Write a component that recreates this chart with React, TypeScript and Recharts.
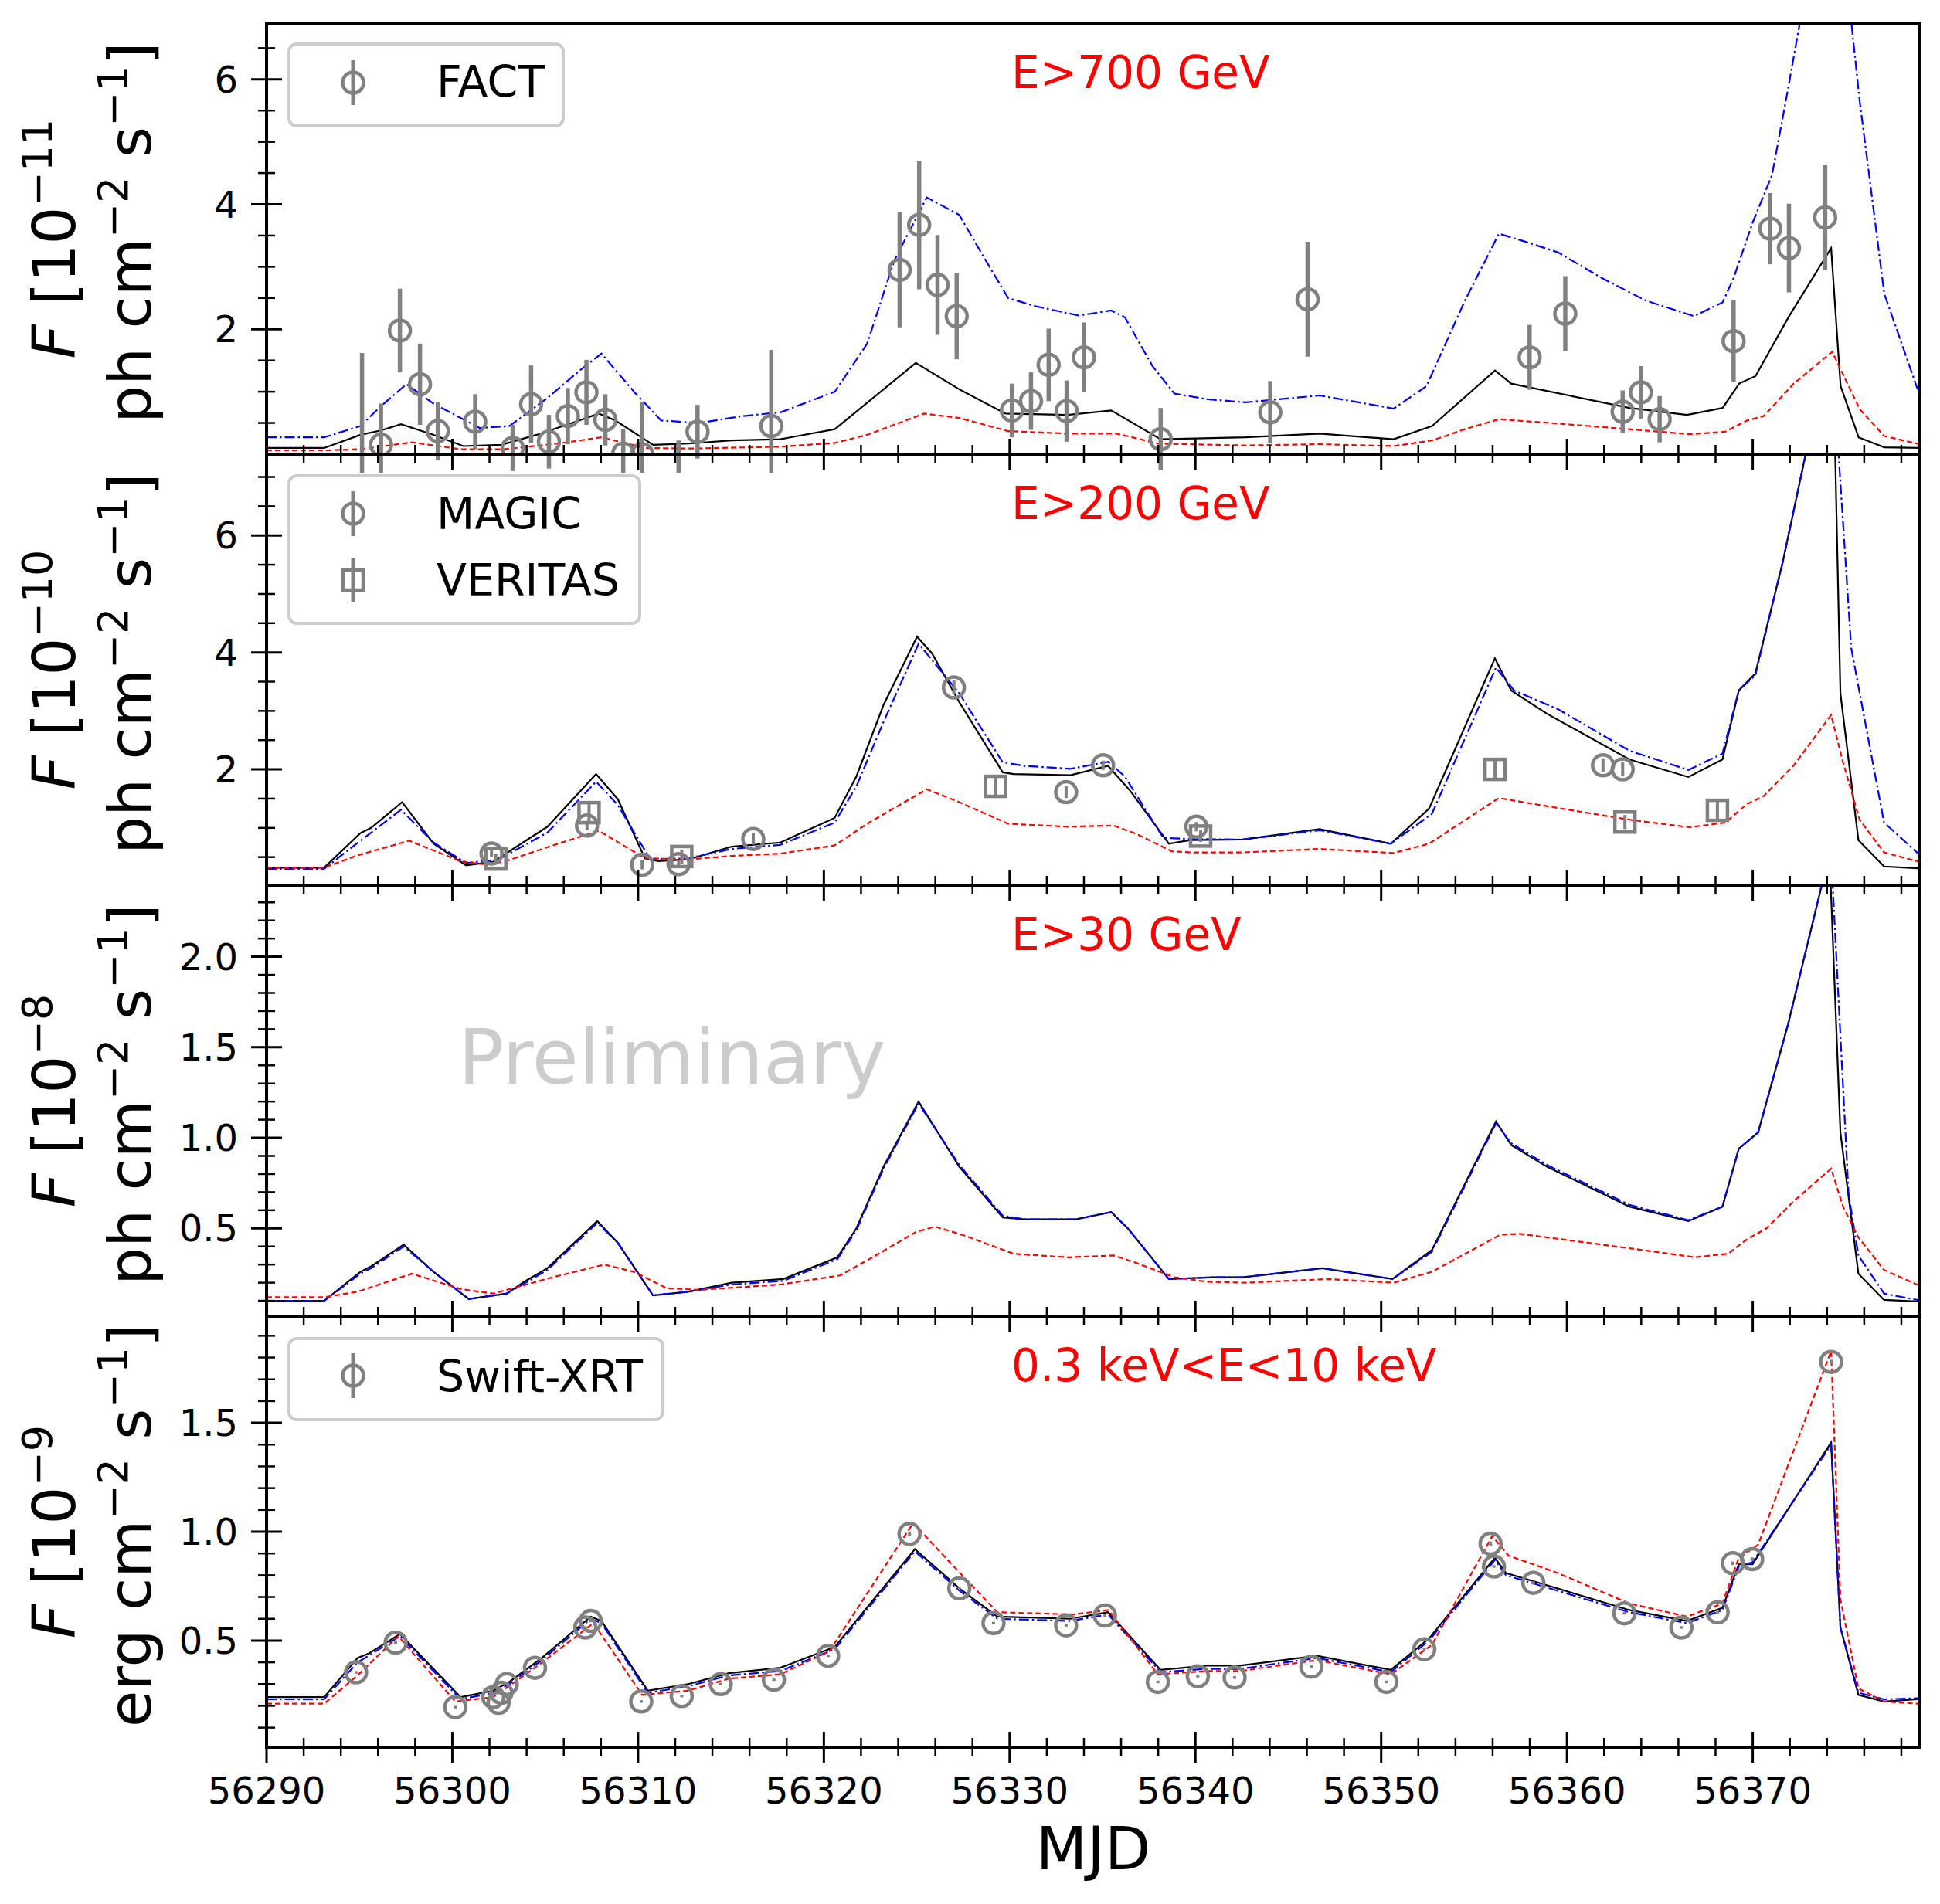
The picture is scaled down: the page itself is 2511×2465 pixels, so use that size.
import React from 'react';
import { ComposedChart, Line, Scatter, ErrorBar, XAxis, YAxis } from 'recharts';

const W = 2511;
const H = 2465;
const PLOT_L = 345;
const PLOT_R = 2485;
const PLOT_H = 558;
const PANEL_TOPS = [30, 588, 1146, 1704];
const FONT = '"DejaVu Sans", sans-serif';
const GRAY = '#808080';

// ---- axes ----
const X_DOMAIN = [56290, 56379];
const X_MAJOR = [56290, 56300, 56310, 56320, 56330, 56340, 56350, 56360, 56370];
const grid = (a: number, b: number, s: number) => {
  const out: number[] = [];
  for (let v = a; v <= b + 1e-9; v += s) out.push(Math.round(v * 1000) / 1000);
  return out;
};
const X_TICKS = grid(56290, 56378, 2);

// ---- panel 1: E>700 GeV (1e-11) ----
const P1_BLACK = [[56290,0.10],[56293.1,0.10],[56295.06,0.31],[56296.16,0.38],[56297.24,0.48],[56298.99,0.31],[56300.59,0.13],[56302.64,0.15],[56304.54,0.31],[56306.14,0.47],[56307.89,0.65],[56308.77,0.54],[56310.81,0.15],[56312.7,0.17],[56315.04,0.22],[56317.66,0.24],[56320.59,0.40],[56324.95,1.46],[56327.28,1.04],[56329.78,0.65],[56333.13,0.63],[56335.47,0.70],[56338.13,0.24],[56342.7,0.27],[56346.69,0.33],[56350.67,0.24],[56352.74,0.45],[56356.13,1.34],[56357.0,1.13],[56363.36,0.74],[56366.46,0.63],[56368.38,0.74],[56369.27,1.13],[56370.15,1.25],[56371.92,2.19],[56374.22,3.30],[56374.73,1.09],[56375.7,0.27],[56377.08,0.11],[56379,0.10]];
const P1_BLUE = [[56290,0.27],[56293.1,0.27],[56295.05,0.45],[56296.16,0.77],[56297.53,1.12],[56298.99,0.81],[56301.47,0.42],[56303.07,0.45],[56305.12,0.90],[56306.86,1.34],[56308.03,1.61],[56309.78,1.0],[56311.24,0.54],[56313.28,0.50],[56315.62,0.61],[56317.66,0.67],[56320.59,1.0],[56322.33,1.77],[56323.79,3.10],[56325.54,4.11],[56327.29,3.83],[56328.46,3.23],[56329.92,2.50],[56331.38,2.37],[56333.71,2.22],[56335.47,2.30],[56336.21,2.19],[56337.69,1.41],[56338.87,0.97],[56340.64,0.88],[56342.7,0.83],[56346.69,0.94],[56350.67,0.73],[56352.44,1.09],[56354.51,2.46],[56356.34,3.53],[56357.46,3.43],[56359.53,3.23],[56361.88,2.82],[56364.24,2.46],[56366.84,2.21],[56368.38,2.43],[56368.97,2.82],[56370.0,3.71],[56371.04,4.47],[56371.92,5.88],[56372.51,6.86],[56374.2,10.0],[56375.76,5.65],[56377.08,2.57],[56378.85,1.06],[56379,1.0]];
const P1_RED = [[56290,0.06],[56293.1,0.06],[56295.05,0.08],[56297.82,0.19],[56300.45,0.08],[56302.78,0.08],[56305.7,0.17],[56308.03,0.27],[56310.37,0.10],[56312.7,0.09],[56317.66,0.12],[56320.59,0.18],[56322.33,0.31],[56325.4,0.65],[56327.29,0.58],[56329.92,0.37],[56333.13,0.33],[56335.77,0.33],[56337.98,0.17],[56342.7,0.14],[56346.69,0.16],[56350.67,0.13],[56352.74,0.22],[56354.51,0.40],[56356.34,0.56],[56359.53,0.49],[56363.36,0.40],[56366.61,0.32],[56368.52,0.36],[56369.7,0.54],[56370.59,0.61],[56372.21,1.13],[56374.28,1.64],[56375.76,0.72],[56377.08,0.29],[56378.85,0.17],[56379,0.16]];
const FACT = [[56295.14,-0.2,1.82],[56296.16,0.15,0.66],[56297.18,1.98,0.67],[56298.26,1.12,0.65],[56299.22,0.37,0.47],[56301.23,0.52,0.44],[56303.25,0.10,0.37],[56304.24,0.80,0.62],[56305.2,0.20,0.43],[56306.22,0.61,0.45],[56307.22,0.99,0.52],[56308.24,0.55,0.41],[56309.2,0.01,0.39],[56310.22,0.0,0.84],[56312.18,-0.2,0.42],[56313.2,0.36,0.43],[56317.17,0.45,1.22],[56324.08,2.95,0.92],[56325.13,3.67,1.03],[56326.12,2.71,0.80],[56327.15,2.21,0.69],[56330.12,0.70,0.43],[56331.15,0.85,0.46],[56332.1,1.43,0.58],[56333.07,0.69,0.49],[56334.0,1.55,0.56],[56338.13,0.24,0.50],[56344.03,0.67,0.50],[56346.04,2.48,0.92],[56357.99,1.55,0.52],[56359.91,2.25,0.60],[56363.0,0.68,0.34],[56363.98,0.99,0.42],[56364.99,0.56,0.37],[56368.97,1.81,0.65],[56370.94,3.61,0.57],[56371.95,3.30,0.71],[56373.9,3.79,0.84]];

// ---- panel 2: E>200 GeV (1e-10) ----
const P2_BLACK = [[56290,0.32],[56293.1,0.32],[56295.05,0.91],[56295.63,1.0],[56297.3,1.44],[56298.99,0.73],[56300.74,0.36],[56302.2,0.42],[56303.95,0.78],[56305.12,1.02],[56307.74,1.92],[56308.91,1.49],[56310.37,0.48],[56311.1,0.43],[56312.7,0.46],[56315.04,0.68],[56317.66,0.75],[56320.58,1.17],[56321.75,1.88],[56323.21,3.10],[56325.02,4.27],[56325.83,3.98],[56327.29,3.15],[56329.63,1.95],[56330.21,1.92],[56333.27,1.90],[56335.3,2.06],[56336.5,1.63],[56338.57,0.73],[56339.75,0.79],[56342.55,0.80],[56346.68,0.98],[56350.52,0.73],[56352.58,1.33],[56356.12,3.90],[56357.0,3.35],[56358.93,2.95],[56363.36,2.17],[56366.54,1.87],[56368.37,2.17],[56369.25,3.35],[56370.14,3.64],[56371.62,5.55],[56372.85,7.39],[56374.3,9.4],[56374.72,3.30],[56375.69,0.79],[56377.07,0.34],[56378.84,0.31],[56379,0.31]];
const P2_BLUE = [[56290,0.30],[56293.1,0.30],[56295.05,0.78],[56297.24,1.31],[56298.99,0.75],[56300.74,0.40],[56302.49,0.46],[56305.12,0.92],[56307.74,1.79],[56308.91,1.39],[56310.66,0.46],[56312.7,0.48],[56315.04,0.64],[56317.66,0.71],[56320.58,1.09],[56321.75,1.71],[56323.21,2.81],[56325.1,4.15],[56327.29,3.30],[56329.63,2.12],[56330.8,2.06],[56333.27,2.01],[56335.3,2.13],[56336.2,1.88],[56338.27,0.83],[56339.75,0.81],[56342.55,0.80],[56346.68,0.96],[56350.52,0.73],[56352.73,1.24],[56356.18,3.74],[56357.15,3.35],[56359.51,3.03],[56363.36,2.32],[56366.54,1.99],[56368.37,2.27],[56369.25,3.35],[56370.14,3.61],[56371.62,5.55],[56372.85,7.39],[56374.25,9.2],[56375.3,4.08],[56377.07,1.09],[56378.84,0.58],[56379,0.55]];
const P2_RED = [[56290,0.32],[56293.1,0.32],[56294.9,0.53],[56297.68,0.78],[56300.45,0.43],[56301.6,0.38],[56302.78,0.42],[56305.41,0.70],[56307.89,0.95],[56310.37,0.48],[56312.7,0.46],[56315.04,0.52],[56317.66,0.56],[56320.58,0.70],[56322.33,1.07],[56325.54,1.66],[56327.29,1.44],[56329.92,1.07],[56333.13,1.02],[56335.6,1.04],[56336.8,0.90],[56338.72,0.60],[56339.75,0.58],[56342.55,0.58],[56346.68,0.64],[56350.67,0.57],[56352.58,0.73],[56356.33,1.51],[56359.51,1.34],[56363.36,1.14],[56366.6,1.01],[56368.52,1.09],[56369.7,1.41],[56370.58,1.54],[56372.21,2.07],[56374.22,2.93],[56374.86,2.12],[56375.75,1.14],[56377.07,0.58],[56378.84,0.43],[56379,0.42]];
const MAGIC = [[56302.11,0.56,0.06],[56307.25,1.04,0.08],[56310.22,0.37,0.08],[56312.18,0.38,0.06],[56316.2,0.81,0.1],[56327.0,3.40,0.12],[56333.04,1.61,0.1],[56335.03,2.07,0.08],[56340.05,1.02,0.08],[56361.94,2.07,0.12],[56363.0,2.0,0.12]];
const VERITAS = [[56302.34,0.48,0.08],[56307.36,1.26,0.15],[56312.35,0.51,0.12],[56329.25,1.71,0.17],[56340.28,0.86,0.1],[56356.13,2.0,0.17],[56363.12,1.10,0.12],[56368.1,1.30,0.15]];

// ---- panel 3: E>30 GeV (1e-8) ----
const P3_BLACK = [[56290,0.10],[56293.1,0.10],[56295.05,0.26],[56295.63,0.29],[56297.38,0.41],[56298.99,0.26],[56300.88,0.11],[56302.93,0.14],[56303.95,0.21],[56305.12,0.28],[56307.8,0.54],[56308.91,0.42],[56310.8,0.13],[56312.7,0.15],[56315.04,0.20],[56317.81,0.22],[56320.73,0.34],[56321.75,0.50],[56323.21,0.84],[56325.1,1.20],[56327.29,0.84],[56329.63,0.56],[56330.8,0.55],[56333.57,0.55],[56335.47,0.59],[56336.36,0.50],[56338.57,0.22],[56340.93,0.23],[56342.55,0.23],[56346.83,0.28],[56350.61,0.22],[56352.73,0.38],[56356.18,1.09],[56357.0,0.96],[56358.93,0.84],[56363.36,0.62],[56366.54,0.54],[56368.37,0.62],[56369.25,0.94],[56370.29,1.03],[56371.91,1.63],[56373.68,2.38],[56374.1,2.65],[56374.72,1.03],[56375.69,0.25],[56377.07,0.105],[56378.84,0.097],[56379,0.097]];
const P3_BLUE = [[56290,0.10],[56293.1,0.10],[56295.05,0.25],[56295.63,0.28],[56297.38,0.40],[56298.99,0.26],[56300.88,0.11],[56302.93,0.14],[56303.95,0.20],[56305.12,0.27],[56307.8,0.53],[56308.91,0.42],[56310.8,0.13],[56312.7,0.15],[56315.04,0.19],[56317.81,0.21],[56320.73,0.33],[56321.75,0.49],[56323.21,0.83],[56325.1,1.19],[56327.29,0.85],[56329.63,0.57],[56330.8,0.55],[56333.57,0.55],[56335.47,0.59],[56336.36,0.50],[56338.57,0.22],[56340.93,0.23],[56342.55,0.23],[56346.83,0.28],[56350.61,0.22],[56352.73,0.37],[56356.18,1.08],[56357.0,0.97],[56358.93,0.85],[56363.36,0.63],[56366.54,0.545],[56368.37,0.62],[56369.25,0.94],[56370.29,1.03],[56371.91,1.63],[56373.68,2.38],[56374.15,2.7],[56375.16,0.69],[56375.69,0.35],[56377.07,0.14],[56378.84,0.105],[56379,0.10]];
const P3_RED = [[56290,0.12],[56293.1,0.12],[56294.9,0.15],[56297.82,0.25],[56300.45,0.165],[56302.2,0.14],[56305.41,0.23],[56308.18,0.30],[56309.78,0.26],[56311.53,0.17],[56313.29,0.16],[56317.66,0.19],[56320.87,0.24],[56322.62,0.34],[56324.96,0.48],[56325.98,0.51],[56327.58,0.46],[56330.21,0.36],[56333.13,0.34],[56335.62,0.35],[56336.8,0.31],[56338.86,0.23],[56340.63,0.205],[56342.7,0.20],[56347.13,0.22],[56350.67,0.20],[56352.73,0.26],[56356.42,0.465],[56357.46,0.47],[56363.36,0.39],[56366.9,0.34],[56368.67,0.36],[56369.7,0.44],[56370.74,0.50],[56372.21,0.65],[56374.22,0.83],[56374.86,0.62],[56375.69,0.45],[56377.07,0.27],[56378.84,0.19],[56379,0.185]];

// ---- panel 4: 0.3-10 keV (1e-9) ----
const P4_BLACK = [[56290,0.24],[56293.1,0.24],[56294.9,0.42],[56295.49,0.44],[56297.18,0.53],[56300.45,0.24],[56302.2,0.27],[56303.07,0.31],[56304.82,0.42],[56307.45,0.61],[56308.03,0.59],[56310.52,0.27],[56312.7,0.30],[56314.89,0.35],[56317.66,0.375],[56320.58,0.47],[56324.9,0.92],[56327.29,0.74],[56329.34,0.61],[56333.27,0.60],[56335.3,0.63],[56338.13,0.365],[56340.63,0.385],[56342.4,0.385],[56346.54,0.43],[56350.52,0.365],[56352.58,0.51],[56356.12,0.88],[56356.72,0.81],[56363.36,0.64],[56366.46,0.59],[56368.37,0.65],[56369.25,0.85],[56369.99,0.85],[56374.22,1.41],[56374.72,0.56],[56375.69,0.25],[56377.07,0.22],[56378.84,0.23],[56379,0.23]];
const P4_BLUE = [[56290,0.23],[56293.1,0.23],[56294.9,0.40],[56295.49,0.43],[56297.18,0.52],[56300.45,0.23],[56302.2,0.26],[56303.07,0.30],[56304.82,0.41],[56307.45,0.60],[56308.03,0.58],[56310.52,0.26],[56312.7,0.29],[56314.89,0.34],[56317.66,0.36],[56320.58,0.46],[56324.9,0.91],[56327.29,0.73],[56329.34,0.60],[56333.27,0.59],[56335.3,0.62],[56338.13,0.355],[56340.63,0.37],[56342.4,0.37],[56346.54,0.42],[56350.52,0.355],[56352.58,0.50],[56356.12,0.87],[56356.72,0.80],[56363.36,0.63],[56366.46,0.58],[56368.37,0.64],[56369.25,0.84],[56369.99,0.86],[56374.22,1.40],[56374.72,0.56],[56375.69,0.26],[56377.07,0.23],[56378.84,0.235],[56379,0.235]];
const P4_RED = [[56290,0.21],[56293.1,0.21],[56294.9,0.34],[56297.09,0.52],[56300.16,0.22],[56302.2,0.24],[56304.53,0.38],[56307.6,0.58],[56310.22,0.25],[56312.7,0.27],[56314.89,0.325],[56317.66,0.345],[56320.29,0.45],[56324.81,1.04],[56327.0,0.84],[56329.34,0.63],[56333.42,0.62],[56335.32,0.64],[56337.98,0.345],[56340.63,0.36],[56342.4,0.36],[56346.54,0.41],[56350.52,0.345],[56352.73,0.48],[56355.98,0.98],[56356.86,0.89],[56359.51,0.81],[56363.36,0.67],[56366.46,0.61],[56368.37,0.67],[56369.25,0.88],[56370.29,0.94],[56374.22,1.83],[56374.72,0.69],[56375.69,0.28],[56377.07,0.22],[56378.84,0.21],[56379,0.21]];
const SWIFT = [[56294.82,0.354,0.006],[56296.95,0.49,0.006],[56300.16,0.194,0.006],[56302.2,0.24,0.006],[56302.49,0.214,0.006],[56302.64,0.26,0.006],[56302.93,0.30,0.006],[56304.45,0.375,0.006],[56307.16,0.56,0.006],[56307.45,0.59,0.006],[56310.17,0.22,0.006],[56312.35,0.245,0.006],[56314.45,0.30,0.006],[56317.31,0.32,0.006],[56320.23,0.43,0.006],[56324.61,0.99,0.01],[56327.29,0.74,0.006],[56329.13,0.58,0.006],[56333.04,0.57,0.006],[56335.13,0.615,0.006],[56337.98,0.31,0.006],[56340.13,0.336,0.006],[56342.11,0.33,0.006],[56346.24,0.38,0.006],[56350.28,0.31,0.006],[56352.32,0.46,0.006],[56355.89,0.945,0.01],[56356.07,0.84,0.006],[56358.19,0.765,0.008],[56363.09,0.625,0.006],[56366.16,0.56,0.006],[56368.11,0.63,0.006],[56368.93,0.855,0.008],[56369.97,0.874,0.008],[56374.22,1.78,0.01]];

const toLine = (a: number[][]) => a.map(([x, y]) => ({ x, y }));
const toPts = (a: number[][]) => a.map(([x, y, err]) => ({ x, y, err }));

const circleShape = (p: any) => (
  <circle cx={p.cx} cy={p.cy} r={13.5} fill="none" stroke={GRAY} strokeWidth={4.5} />
);
const squareShape = (p: any) => (
  <rect x={p.cx - 13} y={p.cy - 13} width={26} height={26} fill="none" stroke={GRAY} strokeWidth={4.5} />
);

const PANELS = [
  {
    domain: [0, 6.9], yTicks: grid(0.5, 6.5, 0.5), yMajor: [2, 4, 6], fmt: (v: number) => String(v),
    black: P1_BLACK, blue: P1_BLUE, red: P1_RED,
    points: [{ data: FACT, shape: circleShape, bw: 5.5 }],
  },
  {
    domain: [0.02, 7.39], yTicks: grid(0.5, 7, 0.5), yMajor: [2, 4, 6], fmt: (v: number) => String(v),
    black: P2_BLACK, blue: P2_BLUE, red: P2_RED,
    points: [{ data: MAGIC, shape: circleShape, bw: 4 }, { data: VERITAS, shape: squareShape, bw: 4 }],
  },
  {
    domain: [0.015, 2.395], yTicks: grid(0.1, 2.3, 0.1), yMajor: [0.5, 1, 1.5, 2], fmt: (v: number) => v.toFixed(1),
    black: P3_BLACK, blue: P3_BLUE, red: P3_RED,
    points: [],
  },
  {
    domain: [0.01, 1.99], yTicks: grid(0.1, 1.9, 0.1), yMajor: [0.5, 1, 1.5], fmt: (v: number) => v.toFixed(1),
    black: P4_BLACK, blue: P4_BLUE, red: P4_RED,
    points: [{ data: SWIFT, shape: circleShape, bw: 4 }],
  },
];

const isMajor = (v: number, majors: number[]) => majors.some((m) => Math.abs(m - v) < 1e-6);

const makeXTick = (showLabel: boolean) => (props: any) => {
  const { x, payload } = props;
  const v = payload.value;
  const major = isMajor(v, X_MAJOR);
  const len = major ? 20 : 12;
  return (
    <g>
      <line x1={x} x2={x} y1={PLOT_H - len} y2={PLOT_H + len} stroke="#000" strokeWidth={major ? 3 : 2.5} />
      {showLabel && major && (
        <text x={x} y={PLOT_H + 73} textAnchor="middle" fontSize={48} fontFamily={FONT} fill="#000">
          {v}
        </text>
      )}
    </g>
  );
};

const makeYTick = (majors: number[], fmt: (v: number) => string) => (props: any) => {
  const { y, payload } = props;
  const v = payload.value;
  const major = isMajor(v, majors);
  const len = major ? 20 : 11;
  return (
    <g>
      <line x1={PLOT_L - len} x2={PLOT_L + len} y1={y} y2={y} stroke="#000" strokeWidth={major ? 3 : 2.5} />
      {major && (
        <text x={PLOT_L - 37} y={y + 17} textAnchor="end" fontSize={48} fontFamily={FONT} fill="#000">
          {fmt(v)}
        </text>
      )}
    </g>
  );
};

function Panel({ idx }: { idx: number }) {
  const p = PANELS[idx];
  const last = idx === PANELS.length - 1;
  const extra = last ? 120 : 24;
  return (
    <div style={{ position: 'absolute', left: 0, top: PANEL_TOPS[idx] }}>
      <ComposedChart width={W} height={PLOT_H + extra} margin={{ top: 0, right: W - PLOT_R, bottom: 0, left: 0 }}>
        <XAxis
          type="number"
          dataKey="x"
          domain={X_DOMAIN}
          allowDataOverflow
          ticks={X_TICKS}
          interval={0}
          tick={makeXTick(last)}
          tickLine={false}
          axisLine={false}
          height={extra}
        />
        <YAxis
          type="number"
          domain={p.domain}
          allowDataOverflow
          ticks={p.yTicks}
          interval={0}
          tick={makeYTick(p.yMajor, p.fmt)}
          tickLine={false}
          axisLine={false}
          width={PLOT_L}
        />
        <Line data={toLine(p.black)} dataKey="y" type="linear" stroke="#000000" strokeWidth={2.2} dot={false} isAnimationActive={false} />
        <Line data={toLine(p.blue)} dataKey="y" type="linear" stroke="#0000ff" strokeWidth={2.2} strokeDasharray="13 4 2.5 4" dot={false} isAnimationActive={false} />
        <Line data={toLine(p.red)} dataKey="y" type="linear" stroke="#ff0000" strokeWidth={2.2} strokeDasharray="7 4" dot={false} isAnimationActive={false} />
        {p.points.map((s, i) => (
          <Scatter key={i} data={toPts(s.data)} dataKey="y" shape={s.shape} isAnimationActive={false}>
            <ErrorBar dataKey="err" direction="y" width={0} stroke={GRAY} strokeWidth={s.bw} isAnimationActive={false} />
          </Scatter>
        ))}
      </ComposedChart>
    </div>
  );
}

function YLabel({ cy, exp, unit }: { cy: number; exp: string; unit: string }) {
  const fs = 77;
  const sfs = 54;
  const rise = 30;
  return (
    <g fontFamily={FONT} fontSize={fs} fill="#000" style={{ whiteSpace: 'pre' }}>
      <text transform={`translate(97 ${cy}) rotate(-90)`} textAnchor="middle">
        <tspan fontStyle="italic">F</tspan>
        <tspan>{' [10'}</tspan>
        <tspan fontSize={sfs} dy={-rise}>{'\u2212' + exp}</tspan>
      </text>
      <text transform={`translate(195 ${cy - 8}) rotate(-90)`} textAnchor="middle">
        <tspan>{unit + ' cm'}</tspan>
        <tspan fontSize={sfs} dy={-rise}>{'\u22122'}</tspan>
        <tspan dy={rise}>{' s'}</tspan>
        <tspan fontSize={sfs} dy={-rise}>{'\u22121'}</tspan>
        <tspan dy={rise}>{']'}</tspan>
      </text>
    </g>
  );
}

function LegendMarker({ cx, cy, square }: { cx: number; cy: number; square?: boolean }) {
  return (
    <g>
      <line x1={cx} x2={cx} y1={cy - 29} y2={cy + 29} stroke={GRAY} strokeWidth={5} />
      {square ? (
        <rect x={cx - 13} y={cy - 13} width={26} height={26} fill="none" stroke={GRAY} strokeWidth={4.5} />
      ) : (
        <circle cx={cx} cy={cy} r={13.5} fill="none" stroke={GRAY} strokeWidth={4.5} />
      )}
    </g>
  );
}

const LABEL_EXP = ['11', '10', '8', '9'];
const LABEL_UNIT = ['ph', 'ph', 'ph', 'erg'];
const BAND_LABELS = ['E>700 GeV', 'E>200 GeV', 'E>30 GeV', '0.3 keV<E<10 keV'];

function Overlay() {
  return (
    <svg width={W} height={H} style={{ position: 'absolute', left: 0, top: 0, pointerEvents: 'none' }}>
      {PANEL_TOPS.map((t, i) => (
        <g key={i}>
          <rect x={PLOT_L} y={t} width={PLOT_R - PLOT_L} height={PLOT_H} fill="none" stroke="#000" strokeWidth={4} />
          <YLabel cy={t + PLOT_H / 2} exp={LABEL_EXP[i]} unit={LABEL_UNIT[i]} />
          <text x={1309} y={t + 84} fontSize={58} fontFamily={FONT} fill="#ff0000">
            {BAND_LABELS[i]}
          </text>
        </g>
      ))}

      {/* legends */}
      <rect x={374} y={57} width={355} height={106} rx={10} fill="#fff" fillOpacity={0.8} stroke="#cccccc" strokeWidth={4} />
      <LegendMarker cx={457} cy={107} />
      <text x={565} y={126} fontSize={57} fontFamily={FONT}>FACT</text>

      <rect x={374} y={616} width={454} height={191} rx={10} fill="#fff" fillOpacity={0.8} stroke="#cccccc" strokeWidth={4} />
      <LegendMarker cx={457} cy={665} />
      <text x={565} y={685} fontSize={57} fontFamily={FONT}>MAGIC</text>
      <LegendMarker cx={457} cy={751} square />
      <text x={565} y={771} fontSize={57} fontFamily={FONT}>VERITAS</text>

      <rect x={374} y={1733} width={484} height={105} rx={10} fill="#fff" fillOpacity={0.8} stroke="#cccccc" strokeWidth={4} />
      <LegendMarker cx={457} cy={1781} />
      <text x={565} y={1802} fontSize={57} fontFamily={FONT}>Swift-XRT</text>

      <text x={593} y={1403} fontSize={98} fontFamily={FONT} fill="#cccccc">Preliminary</text>

      <text x={(PLOT_L + PLOT_R) / 2} y={2420} fontSize={77} fontFamily={FONT} textAnchor="middle">MJD</text>
    </svg>
  );
}

export default function App() {
  return (
    <div style={{ position: 'absolute', left: 0, top: 0, width: W, height: H, background: '#fff', overflow: 'hidden' }}>
      {PANELS.map((_, i) => (
        <Panel key={i} idx={i} />
      ))}
      <Overlay />
    </div>
  );
}
